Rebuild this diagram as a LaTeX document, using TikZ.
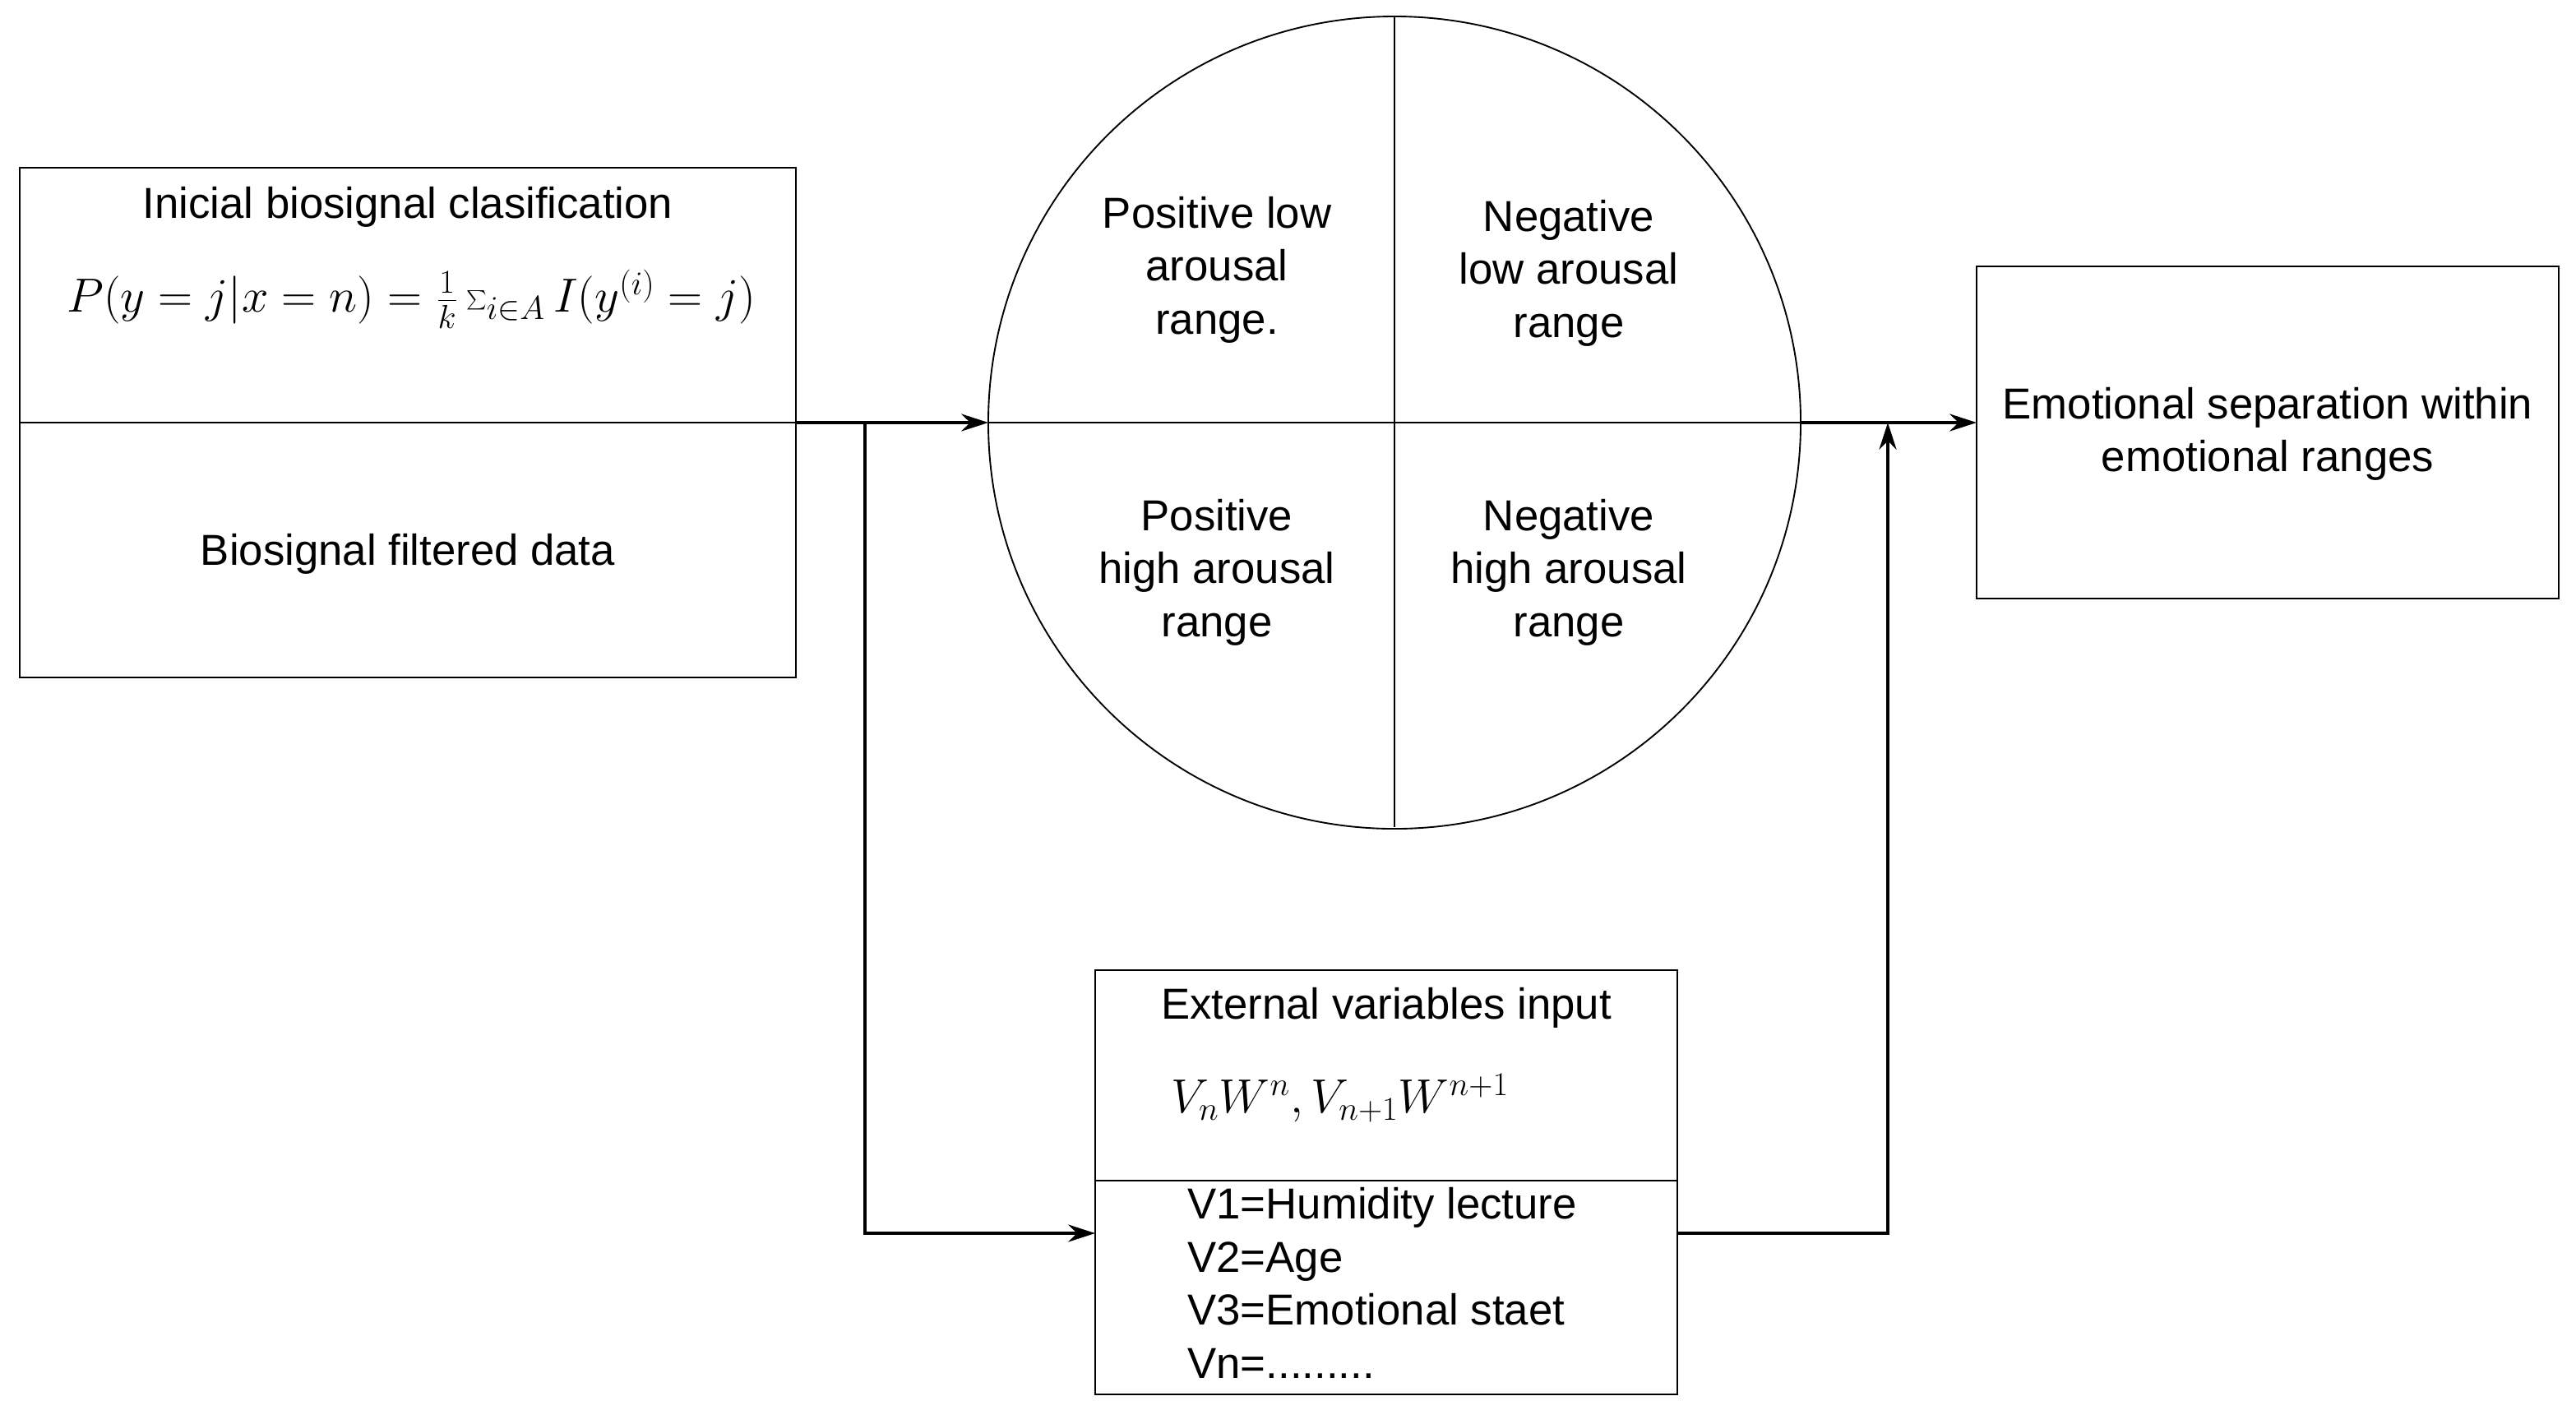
\documentclass[tikz,border=0pt]{standalone}
\usepackage{fontspec}
\setmainfont{Liberation Sans}
\usetikzlibrary{arrows.meta}
\begin{document}
\begin{tikzpicture}[x=0.03cm,y=-0.03cm,
  box/.style={draw,line width=0.8pt},
  lbl/.style={align=center,font=\fontsize{22.5}{27.5}\selectfont},
  conn/.style={line width=1.6pt,-{Stealth[length=14pt,width=9pt]}},
  line/.style={line width=1.6pt}]
\useasboundingbox (0,0) rectangle (1566.5,857);
% left box
\draw[box] (12,102) rectangle (484,412);
\draw[box] (12,257) -- (484,257);
\coordinate (lbR) at (484,257);
\node[lbl] (t1) at (248,126) {Inicial biosignal clasification};
\node[lbl] (f1) at (250,182) {\fontsize{27}{30}\selectfont$P(y=j|x=n)=\frac{1}{k}\sum_{i\in A} I(y^{(i)}=j)$};
\node[lbl] (t2) at (248,337) {Biosignal filtered data};
% circle
\node[draw,circle,line width=0.8pt,minimum size=14.82cm,inner sep=0] (c) at (848,257) {};
\draw[box] (848,10) -- (848,503);
\draw[box] (601,257) -- (1095,257);
\node[lbl] (q1) at (740,164) {Positive low\\arousal\\range.};
\node[lbl] (q2) at (954,166) {Negative\\low arousal\\range};
\node[lbl] (q3) at (740,348) {Positive\\high arousal\\range};
\node[lbl] (q4) at (954,348) {Negative\\high arousal\\range};
% right box
\draw[box] (1202,162) rectangle (1556,364);
\node[lbl] (r) at (1379,264) {Emotional separation within\\emotional ranges};
% bottom box
\draw[box] (666,590) rectangle (1020,848);
\draw[box] (666,718) -- (1020,718);
\node[lbl] (b1) at (843,613) {External variables input};
\node[lbl] (b2) at (815,668) {\fontsize{27}{30}\selectfont$V_nW^n,V_{n+1}W^{n+1}$};
\node[lbl,align=left,anchor=north west,inner sep=0] (b3) at (722,722) {V1=Humidity lecture\\V2=Age\\V3=Emotional staet\\Vn=.........};
\coordinate (cL) at (601,257);
\coordinate (cR) at (1095,257);
\coordinate (rL) at (1202,257);
\coordinate (bL) at (666,750);
\coordinate (bR) at (1020,750);
\coordinate (sp) at (526,257);
\coordinate (jn) at (1148,257);
% connectors
\draw[conn] (lbR) -- (cL);
\draw[conn] (sp) |- (bL);
\draw[conn] (cR) -- (rL);
\draw[conn] (bR) -| (jn);
\end{tikzpicture}
\end{document}
